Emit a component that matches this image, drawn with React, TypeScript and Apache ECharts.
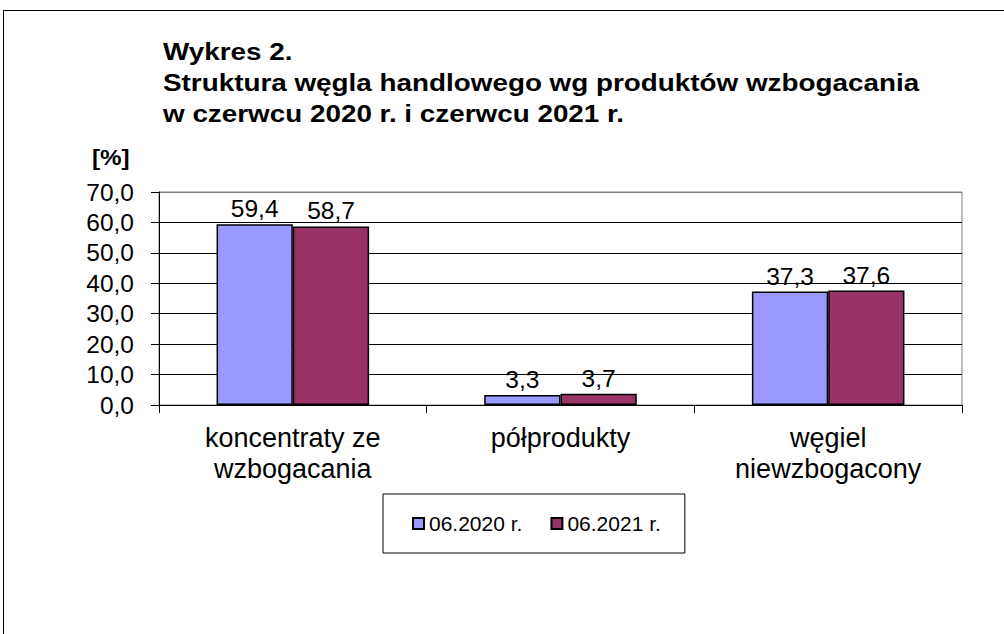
import React, { useEffect, useRef } from "react";
import * as echarts from "echarts";

const categories = ["koncentraty ze\nwzbogacania", "półprodukty", "węgiel\nniewzbogacony"];
const seriesNames = ["06.2020 r.", "06.2021 r."];
const values2020 = [59.4, 3.3, 37.3];
const values2021 = [58.7, 3.7, 37.6];
const titleLines = [
  "Wykres 2.",
  "Struktura węgla handlowego wg produktów wzbogacania",
  "w czerwcu 2020 r. i czerwcu 2021 r.",
];
const unitLabel = "[%]";
const yMin = 0;
const yMax = 70;
const yStep = 10;

const FONT = "'Liberation Sans', Arial, sans-serif";
const fmt = (v: number) => v.toFixed(1).replace(".", ",");

export default function App() {
  const ref = useRef<HTMLDivElement>(null);
  useEffect(() => {
    if (!ref.current) return;
    const chart = echarts.init(ref.current, null, { renderer: "svg" });
    const nLines = (yMax - yMin) / yStep + 1;
    const splitColors = Array.from({ length: nLines }, (_, i) => (i === nLines - 1 ? "#808080" : "#000000"));
    const titleY = [52, 83, 114];
    const option: any = {
      animation: false,
      backgroundColor: "#ffffff",
      textStyle: { fontFamily: FONT },
      grid: {
        left: 159,
        right: 42,
        top: 192,
        bottom: 229,
        show: true,
        borderColor: "#808080",
        borderWidth: 1,
        backgroundColor: "transparent",
        outerBoundsMode: "none",
      },
      legend: {
        data: seriesNames,
        left: 383,
        top: 494,
        orient: "horizontal",
        padding: [19, 24, 19, 29],
        borderColor: "#000",
        borderWidth: 1,
        itemWidth: 11,
        itemHeight: 11,
        itemGap: 28,
        icon: "rect",
        textStyle: { fontSize: 21, color: "#000", fontFamily: FONT },
      },
      xAxis: {
        type: "category",
        data: categories,
        boundaryGap: true,
        axisLine: { show: true, lineStyle: { color: "#000", width: 1 } },
        axisTick: { show: true, length: 8, interval: 0, lineStyle: { color: "#000" } },
        axisLabel: {
          interval: 0,
          margin: 17,
          fontSize: 27,
          lineHeight: 31,
          color: "#000",
          fontFamily: FONT,
        },
        splitLine: { show: false },
      },
      yAxis: {
        type: "value",
        min: yMin,
        max: yMax,
        interval: yStep,
        axisLine: { show: true, lineStyle: { color: "#000", width: 1 } },
        axisTick: { show: true, length: 8, lineStyle: { color: "#000" } },
        axisLabel: {
          margin: 25,
          fontSize: 24.5,
          color: "#000",
          fontFamily: FONT,
          formatter: (v: number) => fmt(v),
        },
        splitLine: { show: true, lineStyle: { color: splitColors, width: 1 } },
      },
      series: [
        {
          name: seriesNames[0],
          type: "bar",
          data: values2020,
          barGap: "0%",
          barCategoryGap: "43%",
          itemStyle: { color: "#9999FF", borderColor: "#000", borderWidth: 1.5 },
          label: {
            show: true,
            position: "top",
            distance: 3,
            fontSize: 24.5,
            color: "#000",
            fontFamily: FONT,
            formatter: (p: any) => fmt(p.value),
          },
        },
        {
          name: seriesNames[1],
          type: "bar",
          data: values2021,
          barGap: "0%",
          barCategoryGap: "43%",
          itemStyle: { color: "#993366", borderColor: "#000", borderWidth: 1.5 },
          label: {
            show: true,
            position: "top",
            distance: 3,
            fontSize: 24.5,
            color: "#000",
            fontFamily: FONT,
            formatter: (p: any) => fmt(p.value),
          },
        },
      ],
      graphic: [
        {
          type: "line",
          shape: { x1: 3.5, y1: 10.5, x2: 1004, y2: 10.5 },
          style: { stroke: "#000", lineWidth: 1 },
          silent: true,
        },
        {
          type: "line",
          shape: { x1: 3.5, y1: 10.5, x2: 3.5, y2: 634 },
          style: { stroke: "#000", lineWidth: 1 },
          silent: true,
        },
        ...titleLines.map((t, i) => ({
          type: "text",
          x: 163,
          y: titleY[i],
          scaleX: 1.16,
          style: {
            text: t,
            font: `bold 24px ${FONT}`,
            fill: "#000",
            align: "left",
            verticalAlign: "middle",
          },
        })),
        {
          type: "text",
          x: 92,
          y: 157,
          scaleX: 1.1,
          style: {
            text: unitLabel,
            font: `bold 22px ${FONT}`,
            fill: "#000",
            align: "left",
            verticalAlign: "middle",
          },
        },
      ],
    };
    chart.setOption(option);
    return () => chart.dispose();
  }, []);
  return (
    <div
      ref={ref}
      style={{ position: "fixed", left: 0, top: 0, width: 1004, height: 634, background: "#fff" }}
    />
  );
}
